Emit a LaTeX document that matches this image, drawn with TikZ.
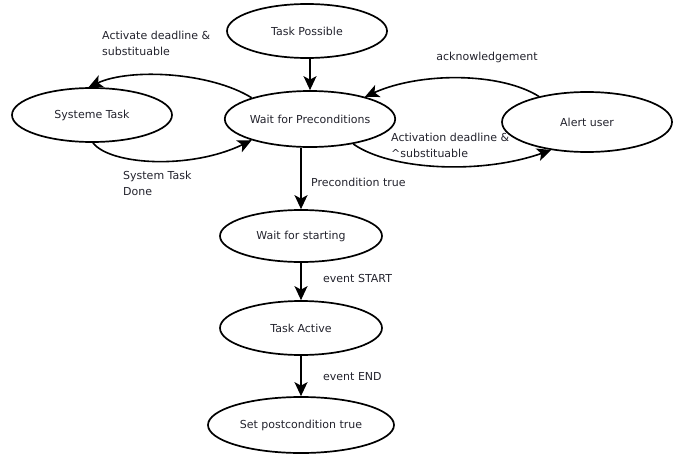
\documentclass[tikz,border=0pt]{standalone}
\usepackage{fontspec}
\setmainfont{DejaVu Sans}
\usetikzlibrary{shapes.geometric,arrows.meta}
\definecolor{txt}{RGB}{35,35,45}
\tikzset{
  state/.style={ellipse,draw=black,line width=1.7pt,inner sep=0pt,text=txt,font=\fontsize{11}{13}\selectfont},
  lbl/.style={anchor=west,inner sep=0pt,align=left,text=txt,font=\fontsize{11}{16}\selectfont},
  conn/.style={line width=1.6pt,-{Stealth[length=14pt,width=13pt,inset=3.5pt]}}
}
\begin{document}
\begin{tikzpicture}[x=1pt,y=-1pt]
\useasboundingbox[fill=white] (0,0) rectangle (678,458);
\node[state,minimum width=160pt,minimum height=54pt] (tp) at (307,31) {Task Possible};
\node[state,minimum width=162pt,minimum height=56pt] (wp) at (310,119) {Wait for Preconditions};
\node[state,minimum width=160pt,minimum height=54pt] (st) at (92,115) {Systeme Task};
\node[state,minimum width=170pt,minimum height=60pt] (au) at (587,122) {Alert user};
\node[state,minimum width=162pt,minimum height=52pt] (ws) at (301,236) {Wait for starting};
\node[state,minimum width=162pt,minimum height=54pt] (ta) at (301,328) {Task Active};
\node[state,minimum width=186pt,minimum height=56pt] (sp) at (301,425) {Set postcondition true};

\draw[conn] (tp.south -| wp.north) -- (wp.north);
\draw[conn] (wp.160) .. controls (210,72) and (130,68) .. (st.97);
\draw[conn] (st.-88) .. controls (110,165) and (190,170) .. (wp.200);
\draw[conn] (au.152) .. controls (500,72) and (420,72) .. (wp.22);
\draw[conn] (wp.-30) .. controls (390,170) and (480,175) .. (au.-142);
\draw[conn] (wp.south -| ws.north) -- (ws.north);
\draw[conn] (ws.south) -- (ta.north);
\draw[conn] (ta.south) -- (sp.north);

\node[lbl] (l1) at (102,43) {Activate deadline \&\\substituable};
\node[lbl] (l2) at (123,183) {System Task\\Done};
\node[lbl,anchor=center] (l3) at (487,57) {acknowledgement};
\node[lbl] (l4) at (391,145) {Activation deadline \&\\\^{}substituable};
\node[lbl] (l5) at (311,182) {Precondition true};
\node[lbl] (l6) at (323,278) {event START};
\node[lbl] (l7) at (323,377) {event END};
\end{tikzpicture}
\end{document}
